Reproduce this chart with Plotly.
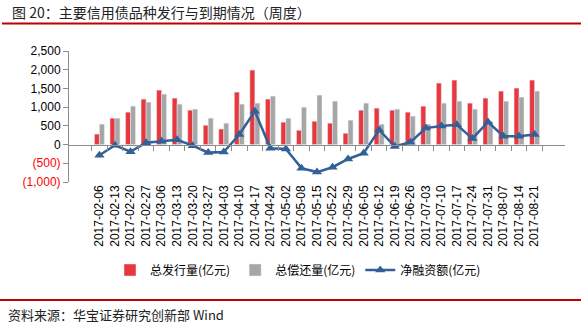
import plotly.graph_objects as go

dates = ["2017-02-06","2017-02-13","2017-02-20","2017-02-27","2017-03-06","2017-03-13","2017-03-20","2017-03-27",
         "2017-04-03","2017-04-10","2017-04-17","2017-04-24","2017-05-02","2017-05-08","2017-05-15","2017-05-22",
         "2017-05-29","2017-06-05","2017-06-12","2017-06-19","2017-06-26","2017-07-03","2017-07-10","2017-07-17",
         "2017-07-24","2017-07-31","2017-08-07","2017-08-14","2017-08-21"]
issuance = [280, 705, 866, 1214, 1455, 1241, 919, 517,
            415, 1402, 1991, 1214, 598, 383, 624, 571,
            303, 919, 973, 919, 866, 1026, 1643, 1723,
            1107, 1241, 1428, 1509, 1723]
repayment = [546, 705, 1026, 1134, 1348, 1080, 946, 705,
             571, 1080, 1107, 1295, 705, 1000, 1321, 1160,
             651, 1107, 544, 946, 758, 544, 1107, 1160,
             946, 620, 1160, 1268, 1428]
net = [-285, -20, -190, 50, 90, 130, -30, -215,
       -200, 270, 890, -100, -120, -630, -735, -605,
       -385, -230, 390, -50, 60, 440, 495, 530,
       160, 600, 225, 225, 270]
ytick_vals = [-1000, -500, 0, 500, 1000, 1500, 2000, 2500]
ytick_text = ["<span style='color:#ff0000'>(1,000)</span>", "<span style='color:#ff0000'>(500)</span>",
              "0", "500", "1,000", "1,500", "2,000", "2,500"]

title_text = "图 20：主要信用债品种发行与到期情况（周度）"
source_text = "资料来源：华宝证券研究创新部 Wind"

cjk = "Noto Sans CJK SC"
fig = go.Figure()
fig.add_trace(go.Bar(x=dates, y=issuance, name="总发行量(亿元)", marker_color="#E8383D"))
fig.add_trace(go.Bar(x=dates, y=repayment, name="总偿还量(亿元)", marker_color="#A6A6A6"))
fig.add_trace(go.Scatter(x=dates, y=net, name="净融资额(亿元)", mode="lines+markers",
                         line=dict(color="#336097", width=2.5),
                         marker=dict(symbol="triangle-up", size=9, color="#336097")))
# invisible trace for zero-line axis ticks
fig.add_trace(go.Scatter(x=dates, y=[0]*len(dates), xaxis="x2", mode="lines",
                         line=dict(width=0), showlegend=False, hoverinfo="skip"))

L, R, T, B = 69, 16, 51, 141
W, H = 581, 323
pw = W - L - R
ph = H - T - B
def px(x): return (x - L) / pw
def py(y): return (H - B - y) / ph

fig.update_layout(
    width=W, height=H,
    margin=dict(l=L, r=R, t=T, b=B),
    plot_bgcolor="white", paper_bgcolor="white",
    barmode="group", bargap=0.36, bargroupgap=0,
    font=dict(family="Arial, Liberation Sans, " + cjk, size=12, color="#000000"),
    showlegend=True,
    legend=dict(orientation="h", x=px(298), y=py(270), xanchor="center", yanchor="middle",
                font=dict(family=cjk, size=12), itemwidth=30, tracegroupgap=0,
                bgcolor="rgba(0,0,0,0)"),
    xaxis=dict(type="category", showline=False, ticks="", tickangle=-90,
               tickfont=dict(family="Arial, Liberation Sans", size=12), showgrid=False, zeroline=False),
    xaxis2=dict(type="category", overlaying="x", matches="x", anchor="free", position=py(144.3) if False else (0 - (-1000)) / 3500,
                side="bottom", showline=True, linecolor="#8c8c8c", linewidth=1, ticks="outside",
                tickson="boundaries", ticklen=5, tickcolor="#8c8c8c", showticklabels=False, showgrid=False),
    yaxis=dict(range=[-1000, 2500], tickvals=ytick_vals, ticktext=ytick_text, showgrid=False,
               zeroline=False, showline=True, linecolor="#8c8c8c", linewidth=1, ticks="outside",
               ticklen=5, tickcolor="#8c8c8c", tickfont=dict(family="Arial, Liberation Sans", size=12)),
)

fig.add_annotation(text=title_text, xref="paper", yref="paper", x=px(10), y=py(12),
                   xanchor="left", yanchor="middle", showarrow=False,
                   font=dict(family=cjk, size=14, color="#222222"))
fig.add_annotation(text=source_text, xref="paper", yref="paper", x=px(6), y=py(314),
                   xanchor="left", yanchor="middle", showarrow=False,
                   font=dict(family=cjk, size=13, color="#222222"))
fig.add_shape(type="line", xref="paper", yref="paper", x0=px(2), x1=px(581), y0=py(23.5), y1=py(23.5),
              line=dict(color="#C00000", width=2))
fig.add_shape(type="line", xref="paper", yref="paper", x0=px(0), x1=px(581), y0=py(300), y1=py(300),
              line=dict(color="#C00000", width=2))

fig.write_html("out.html")
